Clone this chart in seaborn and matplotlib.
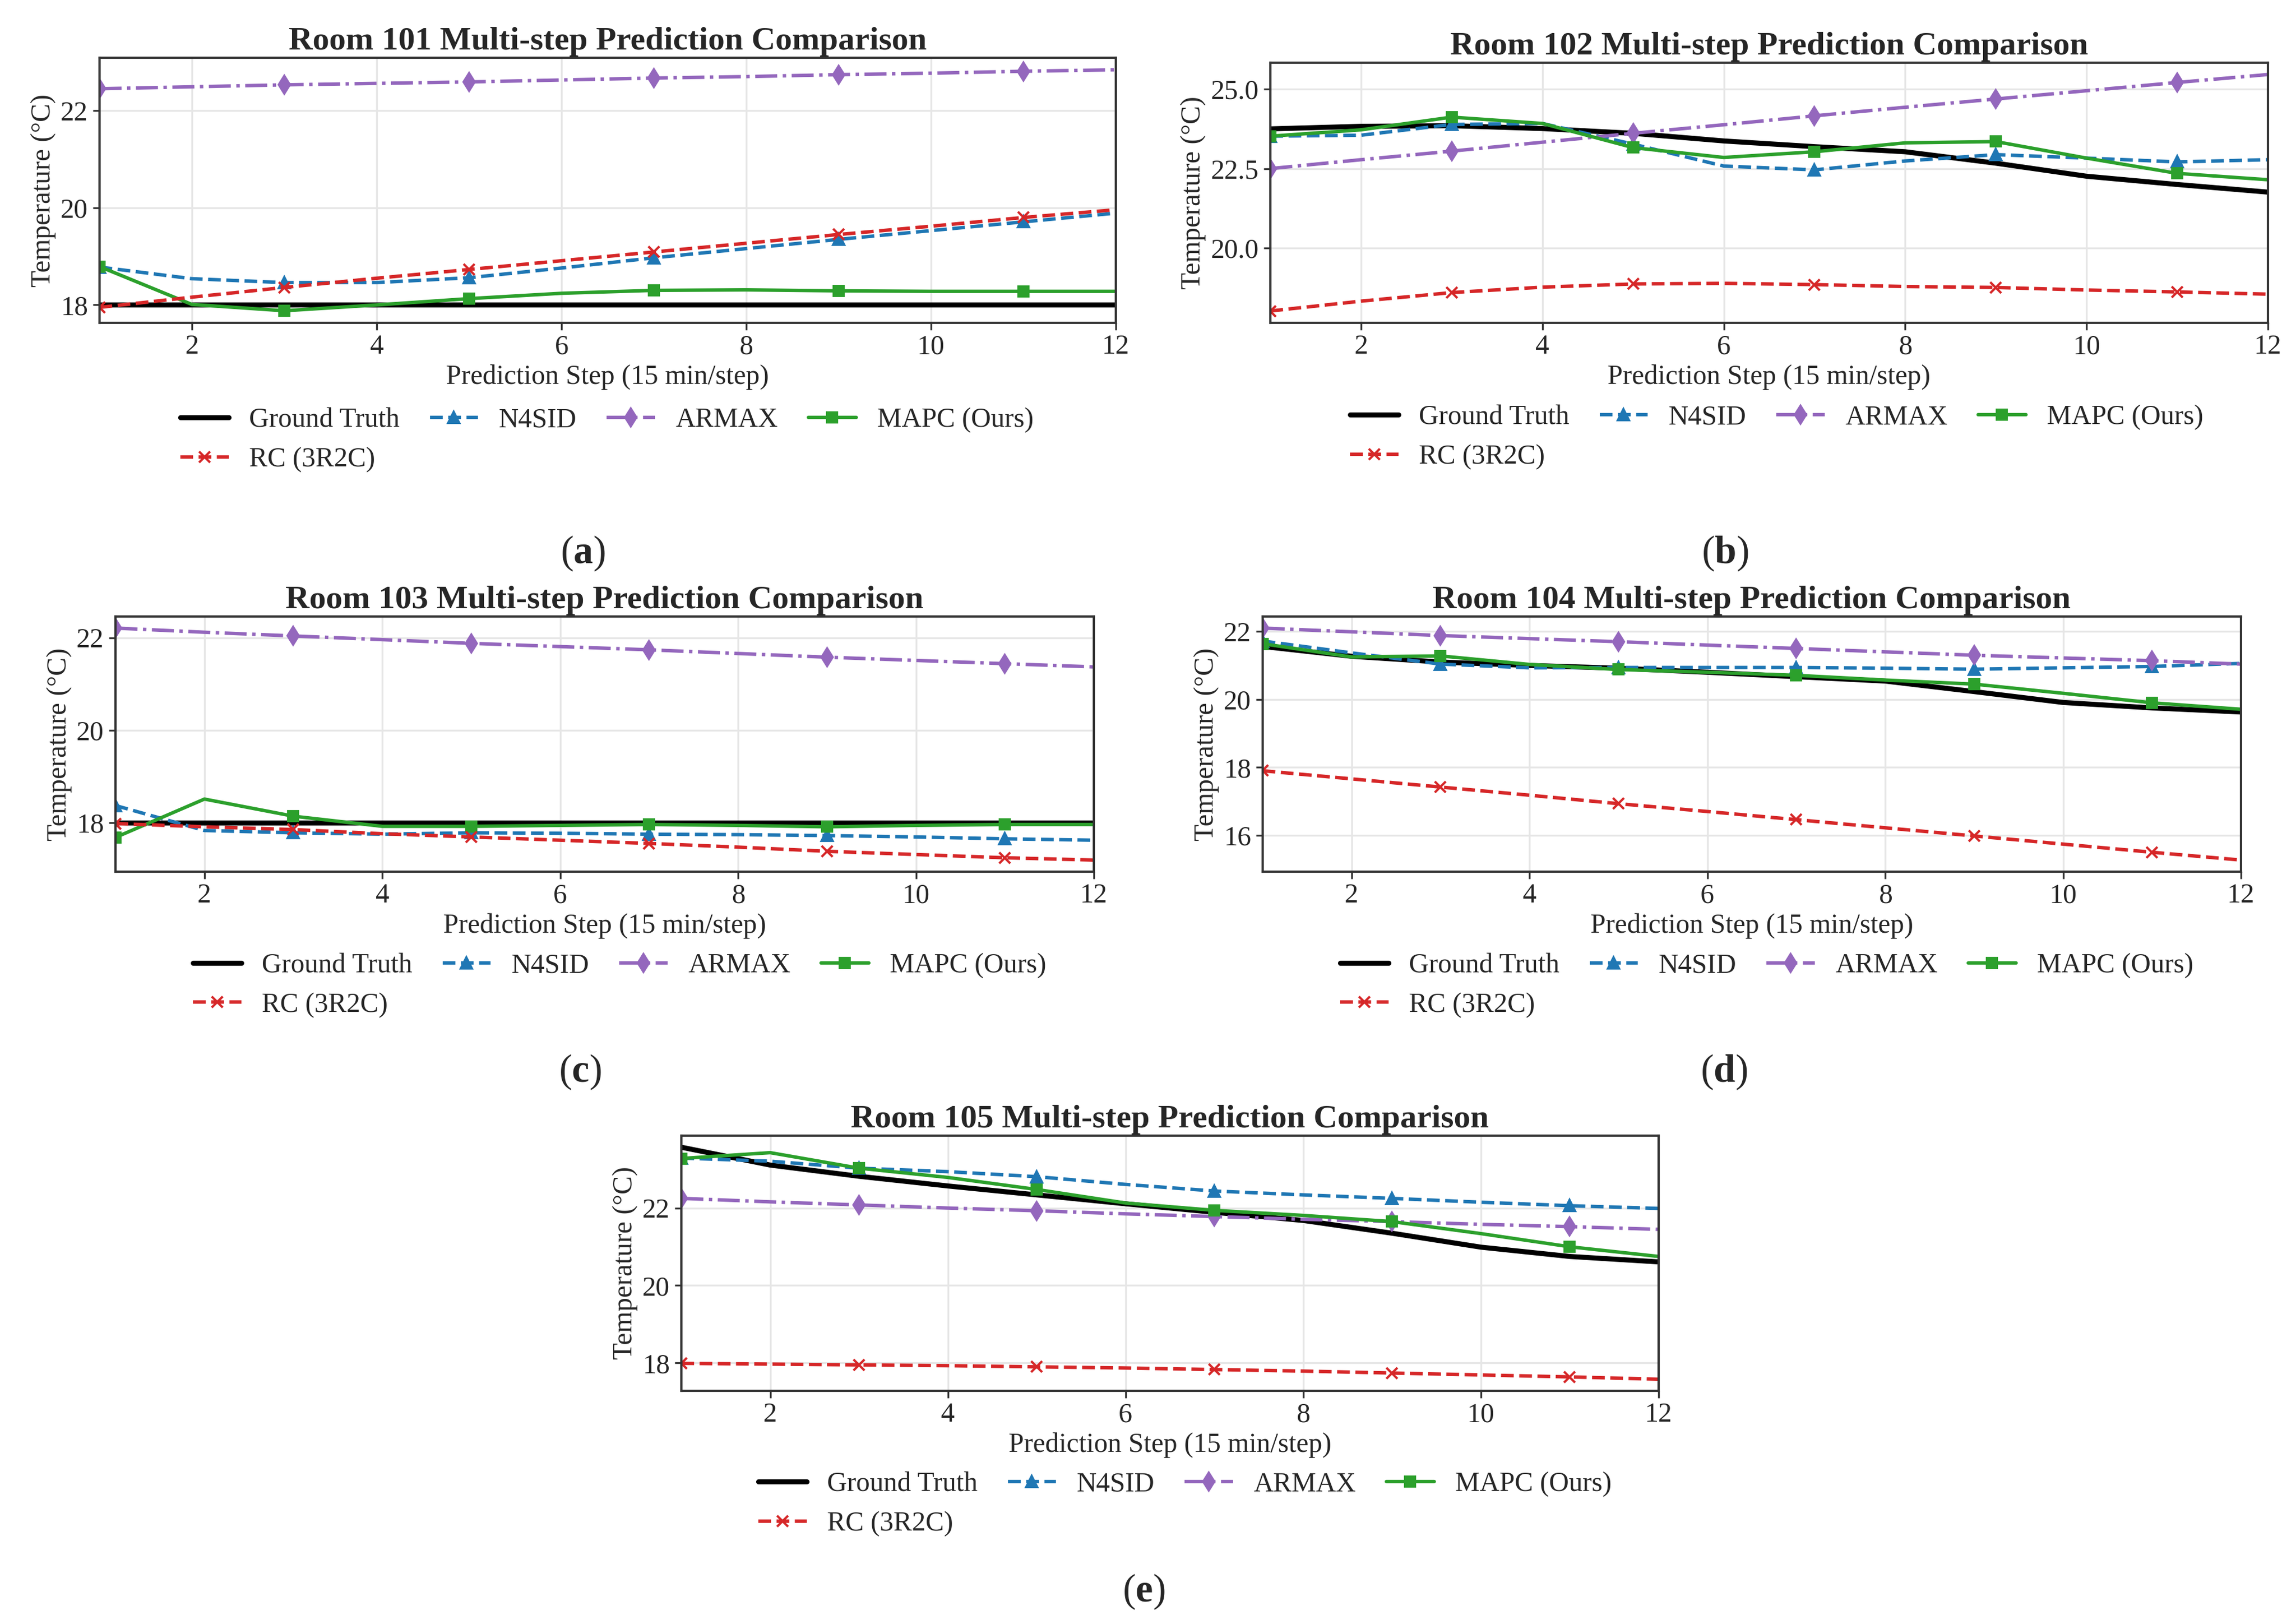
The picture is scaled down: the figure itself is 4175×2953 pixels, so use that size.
import numpy as np
import pandas as pd
import matplotlib
matplotlib.use("Agg")
import matplotlib.pyplot as plt
import seaborn as sns

# ---------------- data ----------------
steps = list(range(1, 13))

# Room 101
r101_gt    = [18.00]*12
r101_n4sid = [18.78, 18.54, 18.46, 18.46, 18.56, 18.76, 18.97, 19.16, 19.35, 19.53, 19.71, 19.89]
r101_armax = [22.45, 22.49, 22.53, 22.56, 22.59, 22.63, 22.67, 22.70, 22.74, 22.77, 22.81, 22.84]
r101_mapc  = [18.79, 18.01, 17.88, 18.00, 18.13, 18.24, 18.30, 18.31, 18.29, 18.28, 18.28, 18.28]
r101_rc    = [17.95, 18.16, 18.36, 18.55, 18.73, 18.91, 19.09, 19.27, 19.45, 19.62, 19.80, 19.96]

# Room 102
r102_gt    = [23.75, 23.83, 23.85, 23.76, 23.61, 23.37, 23.19, 23.03, 22.67, 22.26, 22.00, 21.76]
r102_n4sid = [23.52, 23.55, 23.89, 23.92, 23.27, 22.58, 22.46, 22.74, 22.94, 22.83, 22.71, 22.78]
r102_armax = [22.50, 22.78, 23.05, 23.33, 23.61, 23.88, 24.16, 24.43, 24.69, 24.95, 25.21, 25.46]
r102_mapc  = [23.52, 23.72, 24.12, 23.92, 23.16, 22.85, 23.03, 23.31, 23.35, 22.83, 22.35, 22.15]
r102_rc    = [18.02, 18.33, 18.60, 18.77, 18.87, 18.89, 18.85, 18.79, 18.76, 18.68, 18.62, 18.55]

# Room 103
r103_gt    = [18.00]*12
r103_n4sid = [18.37, 17.83, 17.78, 17.75, 17.78, 17.77, 17.75, 17.74, 17.72, 17.69, 17.65, 17.62]
r103_armax = [22.21, 22.12, 22.04, 21.96, 21.88, 21.81, 21.74, 21.66, 21.58, 21.51, 21.44, 21.37]
r103_mapc  = [17.68, 18.51, 18.14, 17.92, 17.92, 17.94, 17.96, 17.94, 17.91, 17.94, 17.96, 17.96]
r103_rc    = [17.98, 17.91, 17.85, 17.76, 17.69, 17.62, 17.55, 17.47, 17.38, 17.31, 17.24, 17.19]

# Room 104
r104_gt    = [21.56, 21.27, 21.10, 21.00, 20.92, 20.80, 20.67, 20.54, 20.23, 19.91, 19.75, 19.63]
r104_n4sid = [21.72, 21.37, 21.04, 20.93, 20.94, 20.94, 20.94, 20.92, 20.89, 20.93, 20.97, 21.06]
r104_armax = [22.10, 21.99, 21.88, 21.79, 21.70, 21.60, 21.50, 21.40, 21.30, 21.22, 21.14, 21.04]
r104_mapc  = [21.64, 21.25, 21.28, 21.03, 20.88, 20.80, 20.71, 20.57, 20.45, 20.18, 19.90, 19.71]
r104_rc    = [17.90, 17.66, 17.42, 17.18, 16.93, 16.70, 16.46, 16.22, 15.98, 15.74, 15.50, 15.27]

# Room 105
r105_gt    = [23.57, 23.11, 22.82, 22.57, 22.34, 22.11, 21.89, 21.68, 21.35, 20.99, 20.75, 20.61]
r105_n4sid = [23.29, 23.21, 23.03, 22.94, 22.81, 22.61, 22.44, 22.34, 22.25, 22.15, 22.06, 21.99]
r105_armax = [22.25, 22.16, 22.08, 22.00, 21.93, 21.85, 21.78, 21.71, 21.65, 21.58, 21.52, 21.45]
r105_mapc  = [23.28, 23.43, 23.03, 22.79, 22.48, 22.13, 21.94, 21.81, 21.65, 21.34, 21.00, 20.75]
r105_rc    = [17.99, 17.97, 17.95, 17.93, 17.90, 17.87, 17.83, 17.79, 17.74, 17.69, 17.64, 17.58]

rooms = ["101", "102", "103", "104", "105"]
panel_letters = ["a", "b", "c", "d", "e"]
room_data = {
    "101": (r101_gt, r101_n4sid, r101_armax, r101_mapc, r101_rc),
    "102": (r102_gt, r102_n4sid, r102_armax, r102_mapc, r102_rc),
    "103": (r103_gt, r103_n4sid, r103_armax, r103_mapc, r103_rc),
    "104": (r104_gt, r104_n4sid, r104_armax, r104_mapc, r104_rc),
    "105": (r105_gt, r105_n4sid, r105_armax, r105_mapc, r105_rc),
}
series_names = ["Ground Truth", "N4SID", "ARMAX", "MAPC (Ours)", "RC (3R2C)"]

# ---------------- style ----------------
sns.set_theme(style="whitegrid")
plt.rcParams["font.family"] = ["Liberation Serif", "DejaVu Serif"]
plt.rcParams["mathtext.fontset"] = "custom"
plt.rcParams["mathtext.rm"] = "Liberation Serif"
plt.rcParams["mathtext.bf"] = "Liberation Serif:bold"

styles = {
    "Ground Truth": dict(color="black", linestyle="-", linewidth=2.2, marker=None),
    "N4SID": dict(color="#1f77b4", linestyle="--", linewidth=1.5, marker="^", markersize=5),
    "ARMAX": dict(color="#9467bd", linestyle="-.", linewidth=1.5, marker="d", markersize=5.5),
    "MAPC (Ours)": dict(color="#2ca02c", linestyle="-", linewidth=1.5, marker="s", markersize=4.5),
    "RC (3R2C)": dict(color="#d62728", linestyle="--", linewidth=1.5, marker="x", markersize=5),
}

W, H = 4175, 2953
fig = plt.figure(figsize=(W / 300, H / 300), dpi=300)

# axes rectangles (pixels: left, top, right, bottom)
rects = [
    (181, 105, 2029, 587),
    (2310, 114, 4124, 587),
    (210, 1121, 1989, 1585),
    (2296, 1121, 4075, 1585),
    (1239, 2065, 3016, 2529),
]
legend_anchor = [(308, 721), (2435, 716), (331, 1713), (2417, 1713), (1359, 2656)]
label_pos = [(1060, 1006), (3137, 1006), (1055, 1949), (3135, 1949), (2080, 2894)]

for i, room in enumerate(rooms):
    l, t, r, b = rects[i]
    ax = fig.add_axes([l / W, 1 - b / H, (r - l) / W, (b - t) / H])
    for name, vals in zip(series_names, room_data[room]):
        st = dict(styles[name])
        mk = st.pop("marker")
        kw = {}
        if mk is not None:
            kw = dict(marker=mk, markevery=2, markeredgecolor=st["color"],
                      markerfacecolor=st["color"], markeredgewidth=1.0)
        sns.lineplot(x=steps, y=vals, ax=ax, label=name, **st, **kw)
    hs, ls = ax.get_legend_handles_labels()
    hmap = dict(zip(ls, hs))
    ax.get_legend().remove()
    order = ["Ground Truth", "RC (3R2C)", "N4SID", "ARMAX", "MAPC (Ours)"]
    lx, ly = legend_anchor[i]
    fig.legend([hmap[k] for k in order], order, loc="upper left",
               bbox_to_anchor=(lx / W, 1 - ly / H), ncol=4, frameon=False,
               fontsize=12, handlelength=1.75, columnspacing=1.1, handletextpad=0.75,
               borderaxespad=0)

    ax.set_xlim(1, 12)
    ax.set_xticks([2, 4, 6, 8, 10, 12])
    ax.set_title(f"Room {room} Multi-step Prediction Comparison", fontsize=14.5,
                 fontweight="bold", pad=3.5)
    ax.set_xlabel("Prediction Step (15 min/step)", fontsize=12, labelpad=2)
    ax.set_ylabel("Temperature (°C)", fontsize=12, labelpad=2)
    ax.tick_params(axis="both", labelsize=12, length=3, width=0.8, pad=2,
                   bottom=True, left=True, color="#333333")
    ax.grid(True, color="#e6e6e6", linewidth=0.8)
    for sp in ax.spines.values():
        sp.set_color("#333333")
        sp.set_linewidth(1.0)

    px, py = label_pos[i]
    fig.text(px / W, 1 - py / H, r"(" + r"$\mathbf{" + panel_letters[i] + r"}$" + r")",
             ha="center", va="center", fontsize=17)

fig.savefig("out.png", dpi=300, facecolor="white")
